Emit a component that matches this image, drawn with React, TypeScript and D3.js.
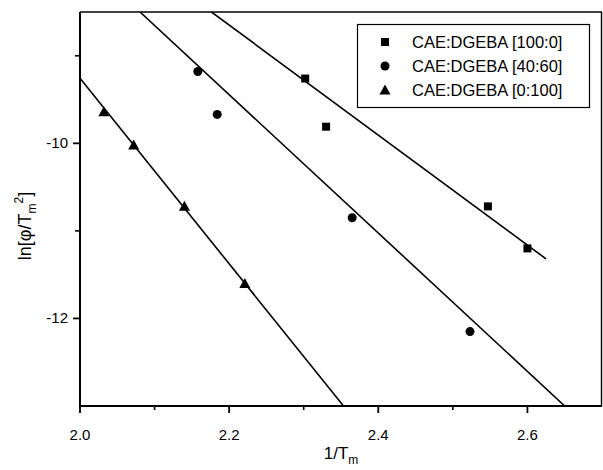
import React from "react";
import * as d3 from "d3";

// ---- data ----
const seriesNames = ["CAE:DGEBA [100:0]", "CAE:DGEBA [40:60]", "CAE:DGEBA [0:100]"];
const seriesShapes = ["square", "circle", "triangle"];
const xSquare = [2.302, 2.33, 2.547, 2.6];
const ySquare = [-9.26, -9.81, -10.72, -11.2];
const xCircle = [2.158, 2.184, 2.365, 2.523];
const yCircle = [-9.18, -9.67, -10.85, -12.15];
const xTriangle = [2.032, 2.072, 2.14, 2.221];
const yTriangle = [-9.64, -10.02, -10.72, -11.6];
// fitted lines: [x0, y0, x1, y1] endpoints in data units
const fitX0 = [2.1763, 2.0805, 2.0];
const fitY0 = [-8.5, -8.5, -9.257];
const fitX1 = [2.625, 2.65, 2.3534];
const fitY1 = [-11.32, -13.0, -13.0];
const xTicksMajor = [2.0, 2.2, 2.4, 2.6];
const xTicksMinor = [2.1, 2.3, 2.5];
const yTicksMajor = [-12, -10];
const yTicksMinor = [-11, -9];

const W = 603;
const H = 470;
const L = 80, R = 602, T = 12, B = 406;

function Marker({ shape, x, y }: { shape: string; x: number; y: number }) {
  if (shape === "square") return <rect x={x - 4} y={y - 4} width={8} height={8} fill="#000" />;
  if (shape === "circle") return <circle cx={x} cy={y} r={4.5} fill="#000" />;
  const p = d3.path();
  p.moveTo(x, y - 5.5);
  p.lineTo(x + 5.5, y + 4.5);
  p.lineTo(x - 5.5, y + 4.5);
  p.closePath();
  return <path d={p.toString()} fill="#000" />;
}

export default function App() {
  const xs = d3.scaleLinear().domain([2.0, 2.7]).range([L, R]);
  const ys = d3.scaleLinear().domain([-13, -8.5]).range([B, T]);
  const xsAll = [xSquare, xCircle, xTriangle];
  const ysAll = [ySquare, yCircle, yTriangle];
  const line = d3.line<[number, number]>().x((d) => xs(d[0])).y((d) => ys(d[1]));
  const font = "'Liberation Sans', Arial, sans-serif";

  return (
    <svg width={W} height={H} style={{ position: "absolute", left: 0, top: 0, background: "#fff" }} fontFamily={font}>
      <defs>
        <clipPath id="plotclip">
          <rect x={L} y={T} width={R - L} height={B - T} />
        </clipPath>
      </defs>
      {/* fit lines */}
      <g clipPath="url(#plotclip)">
        {fitX0.map((_, i) => (
          <path key={i} d={line([[fitX0[i], fitY0[i]], [fitX1[i], fitY1[i]]]) || ""} stroke="#000" strokeWidth={1.6} fill="none" />
        ))}
      </g>
      {/* points */}
      {xsAll.map((arr, si) =>
        arr.map((xv, i) => <Marker key={si + "-" + i} shape={seriesShapes[si]} x={xs(xv)} y={ys(ysAll[si][i])} />)
      )}
      {/* frame */}
      <line x1={L} y1={T} x2={R} y2={T} stroke="#000" strokeWidth={1.4} />
      <line x1={R - 0.5} y1={T} x2={R - 0.5} y2={B} stroke="#000" strokeWidth={1.4} />
      <line x1={L} y1={T} x2={L} y2={B + 1} stroke="#000" strokeWidth={2} />
      <line x1={L - 1} y1={B} x2={R} y2={B} stroke="#000" strokeWidth={2} />
      {/* x ticks */}
      {xTicksMajor.map((t) => (
        <g key={"xM" + t}>
          <line x1={xs(t)} y1={B} x2={xs(t)} y2={B + 7} stroke="#000" strokeWidth={1.8} />
          <text x={xs(t)} y={440} textAnchor="middle" fontSize={15}>{t.toFixed(1)}</text>
        </g>
      ))}
      {xTicksMinor.map((t) => (
        <line key={"xm" + t} x1={xs(t)} y1={B} x2={xs(t)} y2={B + 4} stroke="#000" strokeWidth={1.6} />
      ))}
      {/* y ticks */}
      {yTicksMajor.map((t) => (
        <g key={"yM" + t}>
          <line x1={L - 7} y1={ys(t)} x2={L} y2={ys(t)} stroke="#000" strokeWidth={1.8} />
          <text x={L - 12} y={ys(t) + 5} textAnchor="end" fontSize={15}>{t}</text>
        </g>
      ))}
      {yTicksMinor.map((t) => (
        <line key={"ym" + t} x1={L - 5} y1={ys(t)} x2={L} y2={ys(t)} stroke="#000" strokeWidth={1.6} />
      ))}
      {/* axis titles */}
      <text x={341} y={459} textAnchor="middle" fontSize={17}>
        1/T<tspan fontSize={12} dy={5}>m</tspan>
      </text>
      <text transform={`translate(31,${226}) rotate(-90)`} textAnchor="middle" fontSize={18}>
        ln[φ/T<tspan fontSize={12} dy={5}>m</tspan><tspan fontSize={12} dy={-13}>2</tspan><tspan dy={8}>]</tspan>
      </text>
      {/* legend */}
      <rect x={357.5} y={24.5} width={232} height={83} fill="#fff" stroke="#000" strokeWidth={1.2} />
      {seriesNames.map((n, i) => (
        <g key={n}>
          <Marker shape={seriesShapes[i]} x={385} y={42 + i * 24} />
          <text x={412} y={42 + i * 24 + 6} fontSize={16.5}>{n}</text>
        </g>
      ))}
    </svg>
  );
}
